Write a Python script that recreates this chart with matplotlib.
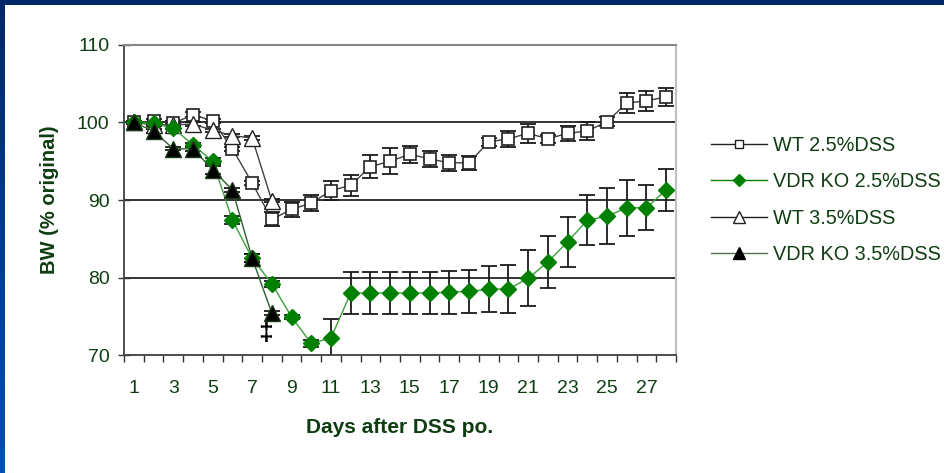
import numpy as np
import matplotlib
matplotlib.use("Agg")
import matplotlib.pyplot as plt
from matplotlib.lines import Line2D
from matplotlib.colors import LinearSegmentedColormap

plt.rcParams['font.family'] = ['Liberation Sans', 'DejaVu Sans']

days = list(range(1, 29))
days_35 = list(range(1, 9))

wt25 = [100.0, 100.2, 99.9, 101.0, 100.2, 96.6, 92.2, 87.5, 88.8, 89.6, 91.2, 91.9,
        94.3, 95.0, 95.9, 95.3, 94.8, 94.8, 97.5, 97.9, 98.6, 97.9, 98.6, 98.9,
        100.1, 102.5, 102.8, 103.3]
wt25_err = [0.2, 0.3, 0.3, 0.3, 0.3, 0.3, 0.3, 0.9, 1.0, 1.0, 1.25, 1.35,
            1.5, 1.65, 1.1, 1.0, 1.0, 0.9, 0.55, 1.0, 1.25, 0.5, 1.0, 1.1,
            0.6, 1.25, 1.3, 1.15]

ko25 = [100.0, 99.9, 99.3, 97.1, 95.0, 87.4, 82.5, 79.2, 74.9, 71.5, 72.2, 78.0,
        78.0, 78.0, 78.0, 78.0, 78.1, 78.2, 78.5, 78.5, 79.9, 82.0, 84.6, 87.4,
        87.9, 89.0, 89.0, 91.3]
ko25_err = [0.2, 0.2, 0.2, 0.3, 0.4, 0.5, 0.5, 0.4, 0.3, 0.5, 2.4, 2.7,
            2.7, 2.7, 2.7, 2.7, 2.8, 2.8, 3.0, 3.1, 3.6, 3.3, 3.2, 3.2,
            3.6, 3.6, 2.9, 2.7]

wt35 = [100.0, 99.7, 99.7, 99.8, 99.0, 98.3, 98.0, 89.9]
wt35_err = [0.2, 0.2, 0.2, 0.2, 0.2, 0.2, 0.2, 0.2]

ko35 = [100.0, 98.9, 96.6, 96.6, 93.9, 91.3, 82.5, 75.4]
ko35_err = [0.2, 0.3, 0.2, 0.3, 0.5, 0.3, 0.5, 0.3]

labels = ["WT 2.5%DSS", "VDR KO 2.5%DSS", "WT 3.5%DSS", "VDR KO 3.5%DSS"]
yticks = [70, 80, 90, 100, 110]
xticklabels = [str(d) for d in range(1, 28, 2)]

TXT = '#0f3d12'
GREEN = '#008000'

fig = plt.figure(figsize=(9.44, 4.73), dpi=100)
fig.patch.set_facecolor('white')

# blue frame on top and left
top = fig.add_axes([0, 1 - 5 / 473, 1, 5 / 473])
top.set_axis_off()
top.add_patch(plt.Rectangle((0, 0), 1, 1, color='#002868', transform=top.transAxes))
left = fig.add_axes([0, 0, 5 / 944, 1])
left.set_axis_off()
grad = np.linspace(0, 1, 256).reshape(-1, 1)
cm = LinearSegmentedColormap.from_list('b', ['#0050b4', '#002868'])
left.imshow(grad, aspect='auto', cmap=cm, origin='lower', extent=[0, 1, 0, 1])

ax = fig.add_axes([124 / 944, 118 / 473, 552 / 944, 310 / 473])
ax.set_xlim(0.5, 28.5)
ax.set_ylim(70, 110)

for y in [80, 90, 100]:
    ax.axhline(y, color='#111111', lw=1.2, zorder=1)

ekw = dict(ecolor='#1a1a1a', elinewidth=1.3, capsize=5.5, capthick=1.3, zorder=2)

ax.errorbar(days, wt25, yerr=wt25_err, fmt='none', **ekw)
ax.errorbar(days, ko25, yerr=ko25_err, fmt='none', **ekw)
ax.errorbar(days_35, wt35, yerr=wt35_err, fmt='none', **ekw)
ax.errorbar(days_35, ko35, yerr=ko35_err, fmt='none', **ekw)

ax.plot(days, wt25, color='#404040', lw=1.0, marker='s', ms=9, mfc='white',
        mec='#202020', mew=1.2, zorder=4)
ax.plot(days_35, wt35, color='#404040', lw=1.0, marker='^', ms=12, mfc='white',
        mec='#202020', mew=1.0, zorder=4)
ax.plot(days, ko25, color='#3aa03a', lw=1.0, marker='D', ms=8.5, mfc=GREEN,
        mec=GREEN, mew=1.0, zorder=5)
ax.plot(days_35, ko35, color='#2f5f2f', lw=1.0, marker='^', ms=12, mfc='black',
        mec='#1a3a1a', mew=1.0, zorder=6)

ax.text(7.7, 72.8, '\u2021', ha='center', va='center', fontsize=19,
        fontweight='bold', color='black')

ax.set_yticks(yticks)
ax.set_yticklabels([str(v) for v in yticks], fontsize=14, color=TXT)
ax.set_xticks(list(range(1, 28, 2)))
ax.set_xticklabels(xticklabels, fontsize=14, color=TXT)
ax.set_xticks(np.arange(0.5, 29, 1.0), minor=True)
ax.tick_params(axis='x', which='major', length=0, pad=18)
ax.tick_params(axis='x', which='minor', length=5, width=1, color='#333333', direction='out')
ax.tick_params(axis='y', which='major', length=9, width=1, color='#333333',
               direction='inout', pad=6)

for s in ['left', 'bottom']:
    ax.spines[s].set_color('#404040')
    ax.spines[s].set_linewidth(1.3)
ax.spines['top'].set_color('#888888')
ax.spines['top'].set_linewidth(1.5)
ax.spines['right'].set_color('#c0c0c0')
ax.spines['right'].set_linewidth(1.5)

ax.set_ylabel('BW (% original)', fontsize=14.5, fontweight='bold', color=TXT, labelpad=13)
ax.set_xlabel('Days after DSS po.', fontsize=15, fontweight='bold', color=TXT, labelpad=15)

handles = [
    Line2D([], [], color='#202020', lw=1.0, marker='s', ms=6, mfc='white', mec='#202020'),
    Line2D([], [], color=GREEN, lw=1.0, marker='D', ms=6.5, mfc=GREEN, mec=GREEN),
    Line2D([], [], color='#202020', lw=1.0, marker='^', ms=8, mfc='white', mec='#202020'),
    Line2D([], [], color='#4f6f4f', lw=1.0, marker='^', ms=8, mfc='black', mec='black'),
]
leg = fig.legend(handles, labels, loc='upper left', bbox_to_anchor=(703 / 944, 1 - 128 / 473),
                 frameon=False, fontsize=14.3, handlelength=2.8, handletextpad=0.3,
                 labelspacing=0.88, borderaxespad=0)
for t in leg.get_texts():
    t.set_color(TXT)

fig.savefig('out.png', dpi=100, facecolor='white')
